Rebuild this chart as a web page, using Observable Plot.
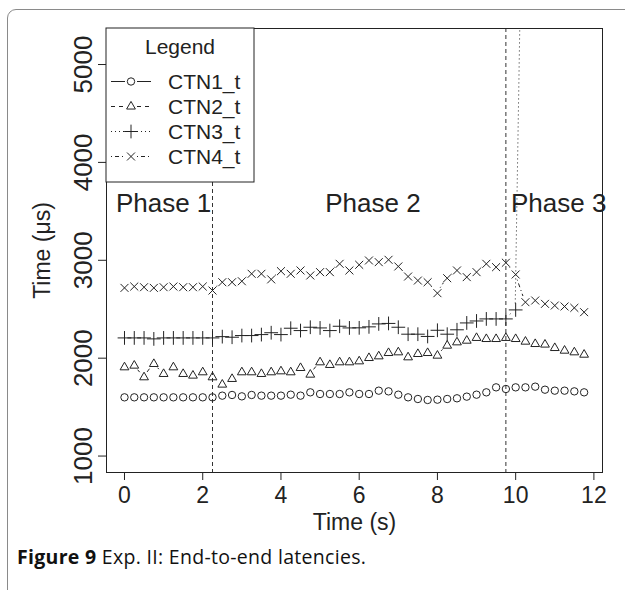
<!DOCTYPE html>
<html><head><meta charset="utf-8">
<script src="https://cdn.jsdelivr.net/npm/d3@7"></script>
<script src="https://cdn.jsdelivr.net/npm/@observablehq/plot@0.6"></script>
<style>
body{margin:0;background:#fff;}
#wrap{position:relative;width:625px;height:590px;overflow:hidden;background:#fff;}
#border{position:absolute;left:7px;top:9px;width:660px;height:640px;border:1.5px solid #8a8a8a;border-radius:9px;}
#chart{position:absolute;left:0;top:0;}
#caption{position:absolute;left:17px;top:543px;font-family:"Open Sans",sans-serif;font-size:19.5px;letter-spacing:0.3px;color:#111;white-space:nowrap;}
</style></head><body>
<div id="wrap"><div id="border"></div><div id="chart"></div><div id="caption"><b>Figure 9</b> Exp. II: End-to-end latencies.</div></div>
<script>
// time stamps (s)
const time = [0,0.25,0.5,0.75,1,1.25,1.5,1.75,2,2.25,2.5,2.75,3,3.25,3.5,3.75,4,4.25,4.5,4.75,5,5.25,5.5,5.75,6,6.25,6.5,6.75,7,7.25,7.5,7.75,8,8.25,8.5,8.75,9,9.25,9.5,9.75,10,10.25,10.5,10.75,11,11.25,11.5,11.75];
const ctn1 = [1600,1600,1600,1600,1600,1600,1600,1600,1600,1600,1617,1624,1610,1624,1617,1617,1617,1627,1617,1651,1634,1634,1634,1651,1634,1634,1668,1661,1627,1600,1583,1573,1576,1583,1590,1607,1627,1651,1702,1685,1702,1702,1709,1678,1668,1668,1661,1651];
const ctn2 = [1907,1924,1805,1941,1839,1907,1839,1822,1856,1805,1730,1788,1856,1856,1839,1856,1866,1856,1900,1832,1958,1931,1958,1958,1968,2002,2019,2053,2060,2009,2043,2053,2026,2128,2162,2179,2207,2196,2196,2207,2196,2169,2145,2139,2104,2077,2060,2036];
const ctn3 = [2207,2207,2207,2197,2207,2207,2207,2207,2207,2207,2220,2214,2231,2231,2241,2260,2241,2306,2282,2316,2309,2282,2326,2309,2310,2320,2350,2355,2316,2245,2245,2222,2285,2245,2290,2360,2380,2401,2401,2401,2493,8600];
const ctn4 = [2718,2732,2725,2718,2725,2732,2725,2725,2732,2691,2776,2776,2786,2862,2862,2805,2889,2862,2896,2845,2879,2879,2964,2896,2954,2998,2981,3005,2937,2834,2793,2776,2664,2817,2896,2828,2879,2964,2930,2975,2855,2572,2589,2555,2538,2528,2514,2470];
const seriesNames = ["CTN1_t","CTN2_t","CTN3_t","CTN4_t"];
const xTicks = [0,2,4,6,8,10,12];
const yTicks = [1000,2000,3000,4000,5000];
const phaseLines = [2.25, 9.75];
const phaseNames = ["Phase 1","Phase 2","Phase 3"];
const phaseX = [1, 6.35, 11.1];
const phaseY = [3580, 3580, 3580];

const seriesValues = [ctn1, ctn2, ctn3, ctn4];
const symbols = ["circle","triangle2","plus","times"];
const symbolR = [3.7, 4.2, 4.5, 3.7];
const dashes = [null, "4,4", "1,3", "1,3,4,3"];
const ink = "#222";
const font = "'Liberation Sans', Arial, sans-serif";
let clipCounter = 0;

// R "type = b" style line: segments between consecutive points with a gap around each point
function gappedLine(values, dash, gap) {
  return (index, scales, channels, dimensions) => {
    const sx = scales.x, sy = scales.y;
    const g = d3.create("svg:g");
    const id = "gapclip" + (clipCounter++);
    g.append("clipPath").attr("id", id).append("rect")
      .attr("x", dimensions.marginLeft).attr("y", dimensions.marginTop)
      .attr("width", dimensions.width - dimensions.marginLeft - dimensions.marginRight)
      .attr("height", dimensions.height - dimensions.marginTop - dimensions.marginBottom);
    const p = d3.path();
    for (let i = 0; i + 1 < values.length; ++i) {
      const x0 = sx(time[i]), y0 = sy(values[i]), x1 = sx(time[i + 1]), y1 = sy(values[i + 1]);
      const dx = x1 - x0, dy = y1 - y0, d = Math.hypot(dx, dy);
      if (d <= 2 * gap) continue;
      const ux = dx / d, uy = dy / d;
      p.moveTo(x0 + ux * gap, y0 + uy * gap);
      p.lineTo(x1 - ux * gap, y1 - uy * gap);
    }
    const path = g.append("path").attr("d", p.toString()).attr("fill", "none")
      .attr("stroke", ink).attr("stroke-width", 1).attr("clip-path", `url(#${id})`);
    if (dash) path.attr("stroke-dasharray", dash);
    return g.node();
  };
}

const marks = [];
seriesValues.forEach((v, k) => marks.push(gappedLine(v, dashes[k], 6)));
marks.push(Plot.ruleX(phaseLines, {stroke: "#333", strokeWidth: 1, strokeDasharray: "4,3"}));
seriesValues.forEach((v, k) => marks.push(
  Plot.dot(v, {x: (d, i) => time[i], y: d => d, symbol: symbols[k], r: symbolR[k], stroke: ink, strokeWidth: 1, fill: "none", clip: true})
));
marks.push(Plot.text(phaseNames, {x: (d, i) => phaseX[i], y: (d, i) => phaseY[i], text: d => d, fontSize: 26, fill: ink, textAnchor: "middle", lineAnchor: "middle"}));
marks.push(Plot.text(yTicks, {y: d => d, text: d => String(d), frameAnchor: "left", dx: -23, rotate: -90, textAnchor: "middle", lineAnchor: "middle", fontSize: 26, fill: ink}));
marks.push(Plot.text(["Time (s)"], {frameAnchor: "bottom", dy: 50, text: d => d, textAnchor: "middle", lineAnchor: "middle", fontSize: 23, fill: ink}));
marks.push(Plot.text(["Time (\u03bcs)"], {frameAnchor: "left", dx: -64, rotate: -90, text: d => d, textAnchor: "middle", lineAnchor: "middle", fontSize: 23, fill: ink}));
marks.push(Plot.frame({stroke: ink, strokeWidth: 1}));

const chart = Plot.plot({
  width: 625, height: 540,
  marginLeft: 106, marginTop: 28, marginRight: 23, marginBottom: 68,
  style: {fontFamily: font, fontSize: "23px", color: ink, background: "transparent", overflow: "visible"},
  x: {domain: [-0.46, 12.22], ticks: xTicks, tickSize: 8, tickPadding: 6, label: null},
  y: {domain: [832, 5368], ticks: yTicks, tickSize: 8, tickFormat: () => "", label: null},
  marks
});
document.getElementById("chart").appendChild(chart);

// Legend box (top-left corner of the plot)
const svg = d3.select(chart);
const lg = svg.append("g").attr("font-family", font).attr("fill", ink);
lg.append("rect").attr("x", 106).attr("y", 28).attr("width", 148).attr("height", 154)
  .attr("fill", "white").attr("stroke", ink).attr("stroke-width", 1);
lg.append("text").attr("x", 180).attr("y", 47).attr("text-anchor", "middle").attr("dy", "0.35em")
  .attr("font-size", 21).text("Legend");
seriesNames.forEach((name, k) => {
  const cy = 81.5 + 25 * k;
  const l1 = lg.append("line").attr("x1", 111).attr("x2", 125).attr("y1", cy).attr("y2", cy).attr("stroke", ink);
  const l2 = lg.append("line").attr("x1", 137).attr("x2", 151).attr("y1", cy).attr("y2", cy).attr("stroke", ink);
  if (dashes[k]) { l1.attr("stroke-dasharray", dashes[k]); l2.attr("stroke-dasharray", dashes[k]); }
  const typ = {circle: d3.symbolCircle, triangle2: d3.symbolTriangle2, plus: d3.symbolPlus, times: d3.symbolTimes}[symbols[k]];
  lg.append("path").attr("transform", `translate(131,${cy})`)
    .attr("d", d3.symbol(typ, Math.PI * symbolR[k] * symbolR[k])())
    .attr("fill", "none").attr("stroke", ink);
  lg.append("text").attr("x", 168).attr("y", cy).attr("dy", "0.35em").attr("text-anchor", "start")
    .attr("font-size", 21).text(name);
});
</script>
</body></html>
